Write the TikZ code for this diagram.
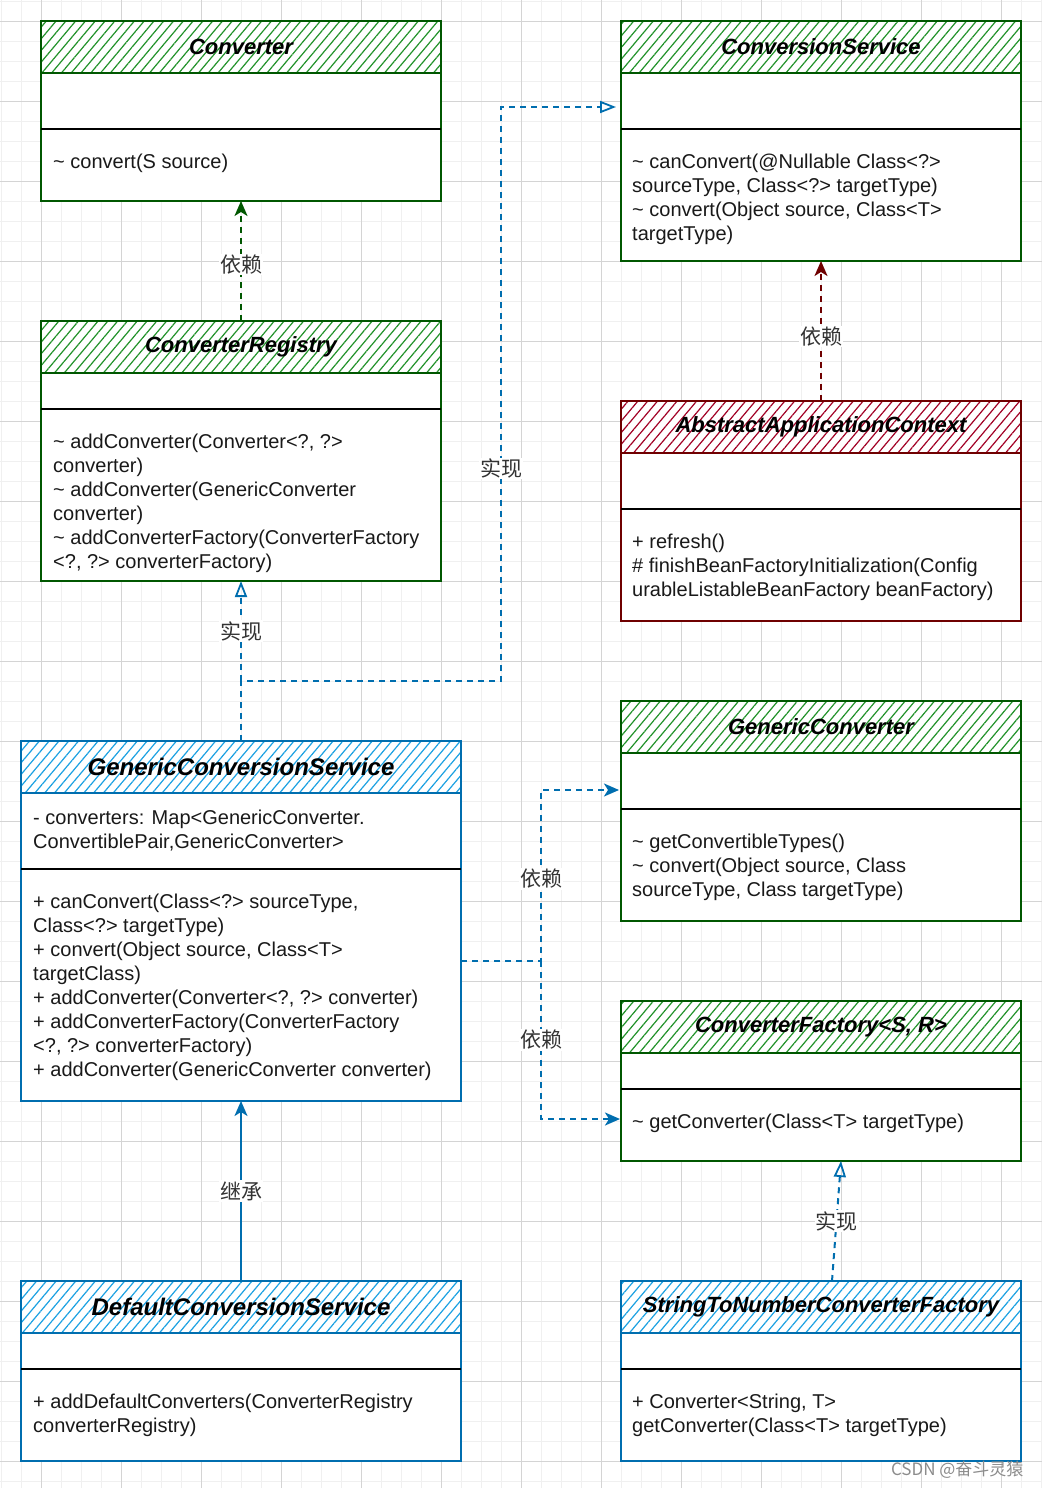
\documentclass[tikz,border=0pt]{standalone}
\usepackage{fontspec}
\setmainfont{Liberation Sans}
\newfontfamily\cjk{Noto Sans CJK SC}
\usepackage{tikz}
\usetikzlibrary{positioning,calc,arrows.meta,patterns.meta}

\definecolor{greenline}{HTML}{005700}
\definecolor{greenhatch}{HTML}{22922A}
\definecolor{redline}{HTML}{6F0000}
\definecolor{redhatch}{HTML}{A20025}
\definecolor{blueline}{HTML}{006EAF}
\definecolor{bluehatch}{HTML}{1BA1E2}
\definecolor{gridminor}{HTML}{F0F0F0}
\definecolor{gridmajor}{HTML}{D4D4D4}

\newcommand{\vispkg}{\textasciitilde\ }

% one class box: name, line colour, hatch colour, position, width, height, divider offset, title
\newcommand{\umlclass}[8]{%
  \node[classbox, draw=#2, minimum width=#5, minimum height=#6] (#1) at #4 {};
  \fill[pattern={Lines[angle=50,distance=7.5pt,line width=1.2pt]}, pattern color=#3]
    (#1.north west) rectangle ($(#1.north east)+(0,52)$);
  \draw[#2, line width=2pt] (#1.north west) rectangle ($(#1.north east)+(0,52)$);
  \draw[divider] ($(#1.north west)+(0,#7)$) -- ($(#1.north east)+(0,#7)$);
  \node[classname] (#1-name) at ($(#1.north)+(0,26)$) {#8};
}

\tikzset{
  classbox/.style={line width=2pt, inner sep=0pt, outer sep=0pt, anchor=north west, fill=white},
  classname/.style={font=\fontsize{22}{26}\selectfont\bfseries\itshape, inner sep=0pt},
  members/.style={anchor=north west, align=left, inner sep=0pt, font=\fontsize{20}{24}\selectfont, text=black!90},
  divider/.style={black, line width=2pt},
  rel/.style={fill=white, inner sep=1pt, font=\cjk\fontsize{21}{24}\selectfont, text=black!80},
  depend/.style={dash pattern=on 6pt off 5pt, line width=2pt, -{Stealth[length=15pt,width=13pt,inset=4pt]}},
  realize/.style={blueline, dash pattern=on 6pt off 5pt, line width=2pt, -{Triangle[open,length=16pt,width=12pt,line width=1.8pt]}},
}

\begin{document}
\begin{tikzpicture}[x=1pt,y=-1pt]
    \useasboundingbox (0,0) rectangle (1042,1488);
    \fill[white] (0,0) rectangle (1042,1488);

    % background grid
    \foreach \x in {1.7,21.7,...,1042} \draw[gridminor, line width=1pt] (\x,0) -- (\x,1488);
    \foreach \y in {1.7,21.7,...,1488} \draw[gridminor, line width=1pt] (0,\y) -- (1042,\y);
    \foreach \x in {41.7,121.7,...,1042} \draw[gridmajor, line width=1pt] (\x,0) -- (\x,1488);
    \foreach \y in {21.7,101.7,...,1488} \draw[gridmajor, line width=1pt] (0,\y) -- (1042,\y);

    % interfaces
    \umlclass{conv}{greenline}{greenhatch}{(41,21)}{400}{180}{108}{Converter}
    \umlclass{cs}{greenline}{greenhatch}{(621,21)}{400}{240}{108}{ConversionService}
    \umlclass{reg}{greenline}{greenhatch}{(41,321)}{400}{260}{88}{ConverterRegistry}
    \umlclass{gencv}{greenline}{greenhatch}{(621,701)}{400}{220}{108}{GenericConverter}
    \umlclass{cf}{greenline}{greenhatch}{(621,1001)}{400}{160}{88}{ConverterFactory<S, R>}

    % abstract class
    \umlclass{aac}{redline}{redhatch}{(621,401)}{400}{220}{108}{AbstractApplicationContext}

    % classes
    \umlclass{gcs}{blueline}{bluehatch}{(21,741)}{440}{360}{128}{\fontsize{24}{28}\selectfont GenericConversionService}
    \umlclass{dcs}{blueline}{bluehatch}{(21,1281)}{440}{180}{88}{\fontsize{24}{28}\selectfont DefaultConversionService}
    \umlclass{stn}{blueline}{bluehatch}{(621,1281)}{400}{180}{88}{StringToNumberConverterFactory}

    % members
    \node[members] (conv-ops) at (53,151) {\strut\vispkg convert(S source)};
    \node[members] (cs-ops) at (632,151) {\strut\vispkg canConvert(@Nullable Class<?>\\sourceType, Class<?> targetType)\\\vispkg convert(Object source, Class<T>\\targetType)};
    \node[members] (reg-ops) at (53,431) {\strut\vispkg addConverter(Converter<?, ?>\\converter)\\\vispkg addConverter(GenericConverter\\converter)\\\vispkg addConverterFactory(ConverterFactory\\<?, ?> converterFactory)};
    \node[members] (aac-ops) at (632,531) {\strut+ refresh()\\\# finishBeanFactoryInitialization(Config\\urableListableBeanFactory beanFactory)};
    \node[members] (gcs-attr) at (33,807) {\strut- converters: Map<GenericConverter.\\ConvertiblePair,GenericConverter>};
    \node[members] (gcs-ops) at (33,891) {\strut+ canConvert(Class<?> sourceType,\\Class<?> targetType)\\+ convert(Object source, Class<T>\\targetClass)\\+ addConverter(Converter<?, ?> converter)\\+ addConverterFactory(ConverterFactory\\<?, ?> converterFactory)\\+ addConverter(GenericConverter converter)};
    \node[members] (gencv-ops) at (632,831) {\strut\vispkg getConvertibleTypes()\\\vispkg convert(Object source, Class\\sourceType, Class targetType)};
    \node[members] (cf-ops) at (632,1111) {\strut\vispkg getConverter(Class<T> targetType)};
    \node[members] (dcs-ops) at (33,1391) {\strut+ addDefaultConverters(ConverterRegistry\\converterRegistry)};
    \node[members] (stn-ops) at (632,1391) {\strut+ Converter<String, T>\\getConverter(Class<T> targetType)};

    % dependencies
    \draw[depend, greenline] (reg.north) -- node[rel, pos=0.47]{依赖} (conv.south);
    \draw[depend, redline] (aac.north) -- node[rel, pos=0.46]{依赖} (cs.south);

    % GenericConversionService realizes both interfaces
    \coordinate (fork) at (241,681);
    \coordinate (bend) at (501,681);
    \coordinate (cs-in) at ($(cs.north west)+(-5,86)$);
    \draw[realize] (gcs.north) -- (fork) -- (bend) -- node[rel, pos=0.37]{实现} (bend |- cs-in) -- (cs-in);
    \draw[realize] (fork) -- node[rel]{实现} (reg.south);

    % GenericConversionService uses the converters
    \coordinate (gcs-out) at ($(gcs.north east)+(0,220)$);
    \coordinate (dep) at (541,961);
    \coordinate (gencv-in) at ($(gencv.north west)+(-2,89)$);
    \coordinate (cf-in) at ($(cf.north west)+(-1,118)$);
    \draw[depend, blueline] (gcs-out) -- (dep) |- node[rel, pos=0.24]{依赖} (gencv-in);
    \draw[depend, blueline] (dep) |- node[rel, pos=0.25]{依赖} (cf-in);

    % inheritance
    \draw[blueline, line width=2pt, -{Stealth[length=15pt,width=13pt,inset=4pt]}] (dcs.north) -- node[rel, pos=0.5]{继承} (gcs.south);

    % StringToNumberConverterFactory realizes ConverterFactory
    \draw[realize] ([xshift=11pt]stn.north) -- node[rel]{实现} ([xshift=20pt]cf.south);

    \node[font=\cjk\fontsize{17}{19}\selectfont, text=black!45, anchor=east] (mark) at (1027,1470) {CSDN @奋斗灵猿};
\end{tikzpicture}
\end{document}
